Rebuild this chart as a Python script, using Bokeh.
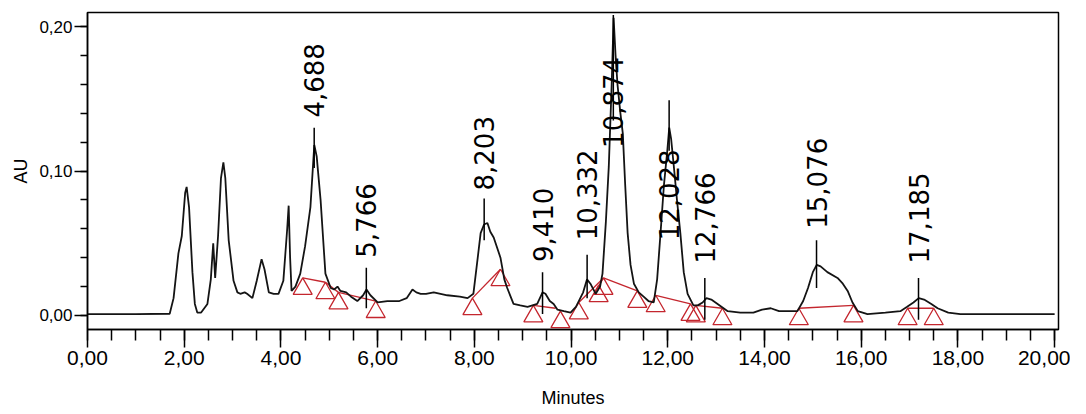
import math
from bokeh.plotting import figure
from bokeh.models import Range1d, SingleIntervalTicker, CustomJSTickFormatter, ColumnDataSource
from bokeh.core.properties import value
from bokeh.embed import file_html
from bokeh.resources import INLINE

# ---------------- data ----------------
time_min = [0.00, 1.00, 1.70, 1.78, 1.88, 1.95, 2.02, 2.05, 2.10, 2.17, 2.22, 2.27, 2.35, 2.48,
            2.55, 2.60, 2.64, 2.70, 2.76, 2.81, 2.85, 2.92, 3.02, 3.10, 3.16, 3.25, 3.30, 3.41,
            3.50, 3.60, 3.66, 3.75, 3.85, 3.95, 4.05, 4.13, 4.16, 4.19, 4.22, 4.30, 4.40, 4.50,
            4.61, 4.69, 4.74, 4.82, 4.92, 5.03, 5.10, 5.17, 5.23, 5.35, 5.45, 5.58, 5.70, 5.77,
            5.85, 6.00, 6.20, 6.45, 6.60, 6.72, 6.80, 6.89, 7.00, 7.16, 7.30, 7.44, 7.70, 7.86,
            7.98, 8.07, 8.13, 8.20, 8.27, 8.33, 8.40, 8.54, 8.62, 8.68, 8.81, 8.95, 9.10, 9.30,
            9.41, 9.47, 9.56, 9.64, 9.72, 9.85, 9.99, 10.10, 10.16, 10.25, 10.33, 10.40, 10.51,
            10.60, 10.65, 10.72, 10.78, 10.84, 10.88, 10.92, 10.96, 11.02, 11.07, 11.12, 11.17,
            11.23, 11.30, 11.40, 11.50, 11.60, 11.71, 11.78, 11.85, 11.92, 11.99, 12.03, 12.07,
            12.12, 12.19, 12.26, 12.33, 12.41, 12.53, 12.62, 12.72, 12.80, 12.90, 13.03, 13.24,
            13.50, 13.77, 13.95, 14.13, 14.30, 14.68, 14.80, 14.90, 15.00, 15.08, 15.16, 15.30,
            15.51, 15.62, 15.72, 15.82, 15.93, 16.13, 16.50, 16.81, 16.95, 17.08, 17.19, 17.30,
            17.45, 17.58, 17.80, 18.05, 20.00]
au = [0.001, 0.001, 0.0012, 0.012, 0.043, 0.055, 0.085, 0.089, 0.075, 0.030, 0.008, 0.002, 0.002, 0.008,
      0.025, 0.050, 0.026, 0.055, 0.095, 0.106, 0.095, 0.052, 0.024, 0.016, 0.015, 0.016, 0.015, 0.012,
      0.024, 0.039, 0.032, 0.016, 0.015, 0.015, 0.024, 0.060, 0.076, 0.040, 0.017, 0.020, 0.029, 0.048,
      0.075, 0.118, 0.110, 0.080, 0.029, 0.019, 0.018, 0.020, 0.017, 0.016, 0.013, 0.010, 0.014, 0.018,
      0.014, 0.009, 0.010, 0.010, 0.012, 0.018, 0.016, 0.015, 0.015, 0.016, 0.015, 0.014, 0.013, 0.012,
      0.015, 0.040, 0.057, 0.063, 0.064, 0.058, 0.054, 0.040, 0.025, 0.019, 0.008, 0.007, 0.006, 0.008,
      0.016, 0.015, 0.010, 0.008, 0.004, 0.003, 0.002, 0.006, 0.010, 0.016, 0.025, 0.022, 0.015,
      0.020, 0.029, 0.065, 0.103, 0.160, 0.206, 0.180, 0.160, 0.140, 0.126, 0.090, 0.057,
      0.035, 0.022, 0.016, 0.013, 0.010, 0.009, 0.025, 0.057, 0.090, 0.114, 0.130, 0.122,
      0.105, 0.080, 0.057, 0.030, 0.015, 0.007, 0.007, 0.009, 0.012, 0.011, 0.008, 0.003,
      0.002, 0.002, 0.004, 0.005, 0.003, 0.003, 0.010, 0.019, 0.030, 0.035, 0.034, 0.030,
      0.026, 0.022, 0.017, 0.009, 0.003, 0.001, 0.002, 0.003, 0.006, 0.009, 0.012, 0.011,
      0.008, 0.005, 0.002, 0.001, 0.001]

# peak labels (retention time, label text, label start AU, marker line top/bottom AU)
peak_rt = [4.688, 5.766, 8.203, 9.410, 10.332, 10.874, 12.028, 12.766, 15.076, 17.185]
peak_text = ["4,688", "5,766", "8,203", "9,410", "10,332", "10,874", "12,028", "12,766", "15,076", "17,185"]
peak_label_au = [0.137, 0.040, 0.0865, 0.037, 0.052, 0.116, 0.052, 0.036, 0.060, 0.036]
peak_line_top = [0.130, 0.033, 0.081, 0.030, 0.042, 0.208, 0.149, 0.026, 0.052, 0.026]
peak_line_bot = [0.102, 0.005, 0.052, 0.001, 0.012, 0.135, 0.114, -0.003, 0.019, -0.003]

# integration baselines (red)
base_t0 = [4.45, 4.92, 5.19, 7.96, 9.22, 10.16, 10.67, 11.75, 12.58, 14.71, 16.96]
base_a0 = [0.026, 0.023, 0.016, 0.012, 0.007, 0.009, 0.026, 0.014, 0.007, 0.005, 0.005]
base_t1 = [4.92, 5.19, 5.96, 8.54, 9.68, 10.67, 11.37, 12.47, 13.13, 15.84, 17.50]
base_a1 = [0.023, 0.016, 0.010, 0.032, 0.005, 0.026, 0.017, 0.008, 0.005, 0.007, 0.005]

# peak start / end markers (apex positions)
tri_t = [4.45, 4.92, 5.19, 5.96, 7.96, 8.54, 9.22, 9.78, 10.16, 10.57, 10.67, 11.37, 11.75,
         12.47, 12.58, 13.13, 14.71, 15.84, 16.96, 17.50]
tri_au = [0.026, 0.023, 0.016, 0.010, 0.012, 0.032, 0.007, 0.003, 0.009, 0.021, 0.026, 0.017, 0.014,
          0.008, 0.007, 0.005, 0.005, 0.007, 0.005, 0.005]

x_lo, x_hi = 0.0, 20.08
y_lo, y_hi = -0.0097, 0.2097

# ---------------- figure ----------------
W, H = 1070, 414
BL, BR, BT, BB = 87, 12, 12, 85
p = figure(width=W, height=H, output_backend="svg", toolbar_location=None,
           x_range=Range1d(x_lo, x_hi), y_range=Range1d(y_lo, y_hi),
           min_border_left=BL, min_border_right=BR, min_border_top=BT, min_border_bottom=BB)
p.background_fill_color = "white"
p.border_fill_color = "white"
p.outline_line_color = "black"
p.outline_line_width = 1.5
p.xgrid.visible = False
p.ygrid.visible = False

fmt = CustomJSTickFormatter(code="return tick.toFixed(2).replace('.', ',');")
sans = "Liberation Sans"

xa = p.xaxis[0]
xa.ticker = SingleIntervalTicker(interval=2, num_minor_ticks=4)
xa.formatter = fmt
xa.axis_line_width = 1.5
xa.major_tick_line_width = 1.5
xa.minor_tick_line_width = 1.5
xa.major_tick_in = 0
xa.major_tick_out = 18
xa.minor_tick_in = 0
xa.minor_tick_out = 11
xa.major_label_standoff = 3
xa.major_label_text_font = sans
xa.major_label_text_font_size = "21px"
xa.major_label_text_color = "black"
xa.axis_label = "Minutes"
xa.axis_label_text_font = sans
xa.axis_label_text_font_size = "18px"
xa.axis_label_text_font_style = "normal"
xa.axis_label_text_color = "black"
xa.axis_label_standoff = 20

ya = p.yaxis[0]
ya.ticker = SingleIntervalTicker(interval=0.1, num_minor_ticks=5)
ya.formatter = fmt
ya.axis_line_width = 1.5
ya.major_tick_line_width = 1.5
ya.minor_tick_line_width = 1.5
ya.major_tick_in = 0
ya.major_tick_out = 13
ya.minor_tick_in = 0
ya.minor_tick_out = 7
ya.major_label_standoff = 2
ya.major_label_text_font = sans
ya.major_label_text_font_size = "17px"
ya.major_label_text_color = "black"
ya.axis_label = "AU"
ya.axis_label_text_font = "DejaVu Sans"
ya.axis_label_text_font_size = "18px"
ya.axis_label_text_font_style = "normal"
ya.axis_label_text_color = "black"
ya.axis_label_standoff = 5

red = "#c4262e"

# integration baselines
p.segment(x0=base_t0, y0=base_a0, x1=base_t1, y1=base_a1, line_color=red, line_width=1.3)

# triangle markers: apex sits on the baseline point
tri_size = 19
frame_h = H - BT - BB
au_per_px = (y_hi - y_lo) / frame_h
apex_shift = (2.0 / 3.0) * (tri_size / 2.0) * math.sqrt(3) * au_per_px
p.scatter(x=tri_t, y=[a - apex_shift for a in tri_au], marker="triangle", size=tri_size,
          fill_color=None, line_color=red, line_width=1.3)

# chromatogram trace
p.line(time_min, au, line_color="#141414", line_width=1.8)

# peak marker lines and labels
p.segment(x0=peak_rt, y0=peak_line_bot, x1=peak_rt, y1=peak_line_top, line_color="black", line_width=1.5)
lab = ColumnDataSource(dict(x=peak_rt, y=peak_label_au, t=peak_text))
p.text(x="x", y="y", text="t", source=lab, angle=math.pi / 2, text_align="left",
       text_baseline="middle", text_font=value("DejaVu Sans"), text_font_size="26px",
       text_color="black")

open("out.html", "w").write(file_html(p, INLINE))
